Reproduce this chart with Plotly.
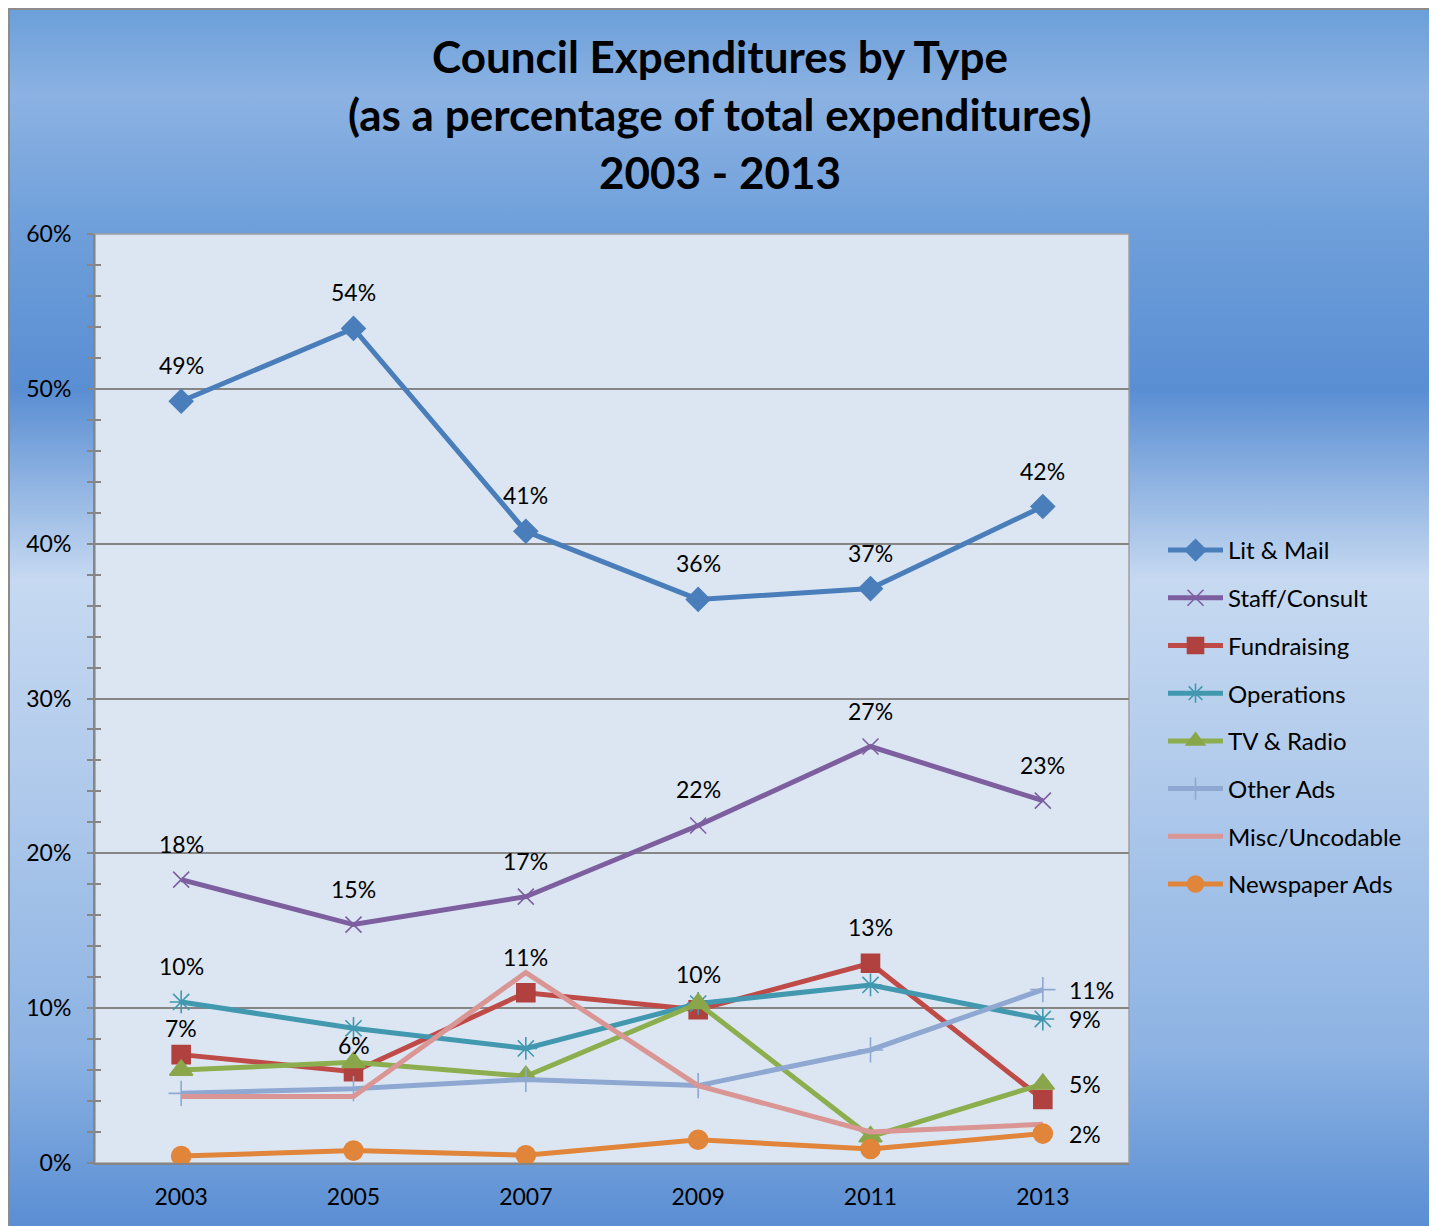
import base64
import plotly.graph_objects as go

# ---------------- data ----------------
years = ["2003", "2005", "2007", "2009", "2011", "2013"]
series_names = ["Lit & Mail", "Staff/Consult", "Fundraising", "Operations",
                "TV & Radio", "Other Ads", "Misc/Uncodable", "Newspaper Ads"]
lit_mail = [49.2, 53.9, 40.8, 36.4, 37.1, 42.4]
staff_consult = [18.3, 15.4, 17.2, 21.8, 26.9, 23.4]
fundraising = [7.0, 5.9, 11.0, 9.9, 12.9, 4.1]
operations = [10.4, 8.7, 7.4, 10.3, 11.5, 9.3]
tv_radio = [6.0, 6.5, 5.6, 10.3, 1.7, 5.1]
other_ads = [4.5, 4.8, 5.4, 5.0, 7.3, 11.2]
misc_uncodable = [4.3, 4.3, 12.3, 5.0, 2.0, 2.5]
newspaper_ads = [0.45, 0.8, 0.5, 1.5, 0.9, 1.9]
y_tick_values = [0, 10, 20, 30, 40, 50, 60]
y_tick_labels = ["0%", "10%", "20%", "30%", "40%", "50%", "60%"]

series_values = [lit_mail, staff_consult, fundraising, operations,
                 tv_radio, other_ads, misc_uncodable, newspaper_ads]

# which points carry a data label, and where (style)
label_points = {
    "Lit & Mail": {0: "top", 1: "top", 2: "top", 3: "top", 4: "top", 5: "top"},
    "Staff/Consult": {0: "top", 1: "top", 2: "top", 3: "top", 4: "top", 5: "top"},
    "Fundraising": {0: "top_lo", 1: "top_lo", 2: "top", 3: "top", 4: "top"},
    "Operations": {0: "top", 5: "right"},
    "TV & Radio": {5: "right"},
    "Other Ads": {5: "right"},
    "Newspaper Ads": {5: "right"},
}

styles = {
    "Lit & Mail": dict(color="#4A7EBB", symbol="diamond", size=18, mcolor="#4A7EBB"),
    "Staff/Consult": dict(color="#7D5FA0", symbol="x-thin-open", size=16, mcolor="#7D5FA0"),
    "Fundraising": dict(color="#BE4B48", symbol="square", size=18, mcolor="#B0413E"),
    "Operations": dict(color="#4198AF", symbol="asterisk-open", size=19, mcolor="#4198AF"),
    "TV & Radio": dict(color="#8DAE4E", symbol="triangle-up", size=20, mcolor="#8AA64A"),
    "Other Ads": dict(color="#8EA8D2", symbol="cross-thin-open", size=18, mcolor="#8EA8D2"),
    "Misc/Uncodable": dict(color="#D99694", symbol=None, size=0, mcolor="#D99694"),
    "Newspaper Ads": dict(color="#E0853A", symbol="circle", size=19, mcolor="#E0853A"),
}

FONT = "Lato"

# ---------------- layout geometry (pixels of the page; body has an 8px margin) ----------------
OFF = 8
W, H = 1437 - OFF, 1226 - OFF
PL, PR, PT, PB = 95 - OFF, 1129 - OFF, 234 - OFF, 1163 - OFF   # plot area in figure pixels


def px_x(px):
    return (px - OFF - PL) / (PR - PL)


def px_y(py):
    return (PB - (py - OFF)) / (PB - PT)


fig = go.Figure()

for name, vals in zip(series_names, series_values):
    st = styles[name]
    mode = "lines+markers" if st["symbol"] else "lines"
    marker = dict(symbol=st["symbol"], size=st["size"], color=st["mcolor"],
                  line=dict(color=st["mcolor"], width=1.6)) if st["symbol"] else None
    fig.add_trace(go.Scatter(
        x=years, y=vals, name=name, mode=mode, legendgroup=name,
        line=dict(color=st["color"], width=5),
        marker=marker, hoverinfo="x+y+name",
    ))

# data labels (x given as category index on the category axis)
annotations = []
for name, vals in zip(series_names, series_values):
    for idx, pos in label_points.get(name, {}).items():
        txt = f"{round(vals[idx])}%"
        if pos == "right":
            annotations.append(dict(x=idx, y=vals[idx], text=txt, showarrow=False,
                                    xanchor="left", yanchor="middle", xshift=24, yshift=0,
                                    font=dict(family=FONT, size=23, color="#000000")))
        else:
            shift = 27 if pos == "top_lo" else 36
            annotations.append(dict(x=idx, y=vals[idx], text=txt, showarrow=False,
                                    xanchor="center", yanchor="middle", yshift=shift,
                                    font=dict(family=FONT, size=23, color="#000000")))

# title lines
title_lines = ["Council Expenditures by Type",
               "(as a percentage of total expenditures)",
               "2003 - 2013"]
for line, py in zip(title_lines, [56, 114, 172]):
    annotations.append(dict(xref="paper", yref="paper", x=px_x(720), y=px_y(py),
                            text=f"<b>{line}</b>", showarrow=False,
                            xanchor="center", yanchor="middle",
                            font=dict(family=FONT, size=44, color="#000000")))

# background gradient as an svg image
stops = [(0, "#6A9FD9"), (95, "#8CB2E3"), (230, "#6E9FDA"), (390, "#5A8ED3"),
         (580, "#C6D9F1"), (760, "#B3CCEC"), (1050, "#8DB3E3"), (1226, "#5A8ED3")]
top_px, bot_px, left_px, right_px = 8, 1226, 8, 1432
stop_xml = "".join(
    f'<stop offset="{(p - top_px) / (bot_px - top_px):.4f}" stop-color="{c}"/>' for p, c in stops)
svg = (f'<svg xmlns="http://www.w3.org/2000/svg" width="{right_px-left_px}" height="{bot_px-top_px}" '
       f'preserveAspectRatio="none" viewBox="0 0 {right_px-left_px} {bot_px-top_px}">'
       f'<defs><linearGradient id="g" x1="0" y1="0" x2="0" y2="1">{stop_xml}</linearGradient></defs>'
       f'<rect x="0" y="0" width="{right_px-left_px}" height="{bot_px-top_px}" fill="url(#g)"/></svg>')
src = "data:image/svg+xml;base64," + base64.b64encode(svg.encode()).decode()

images = [dict(source=src, xref="paper", yref="paper", x=px_x(left_px), y=px_y(top_px),
               sizex=px_x(right_px) - px_x(left_px), sizey=px_y(top_px) - px_y(bot_px),
               xanchor="left", yanchor="top", sizing="stretch", layer="below")]

shapes = [
    # outer chart border
    dict(type="rect", xref="paper", yref="paper", x0=px_x(left_px + 1), x1=px_x(right_px),
         y0=px_y(top_px + 1), y1=px_y(bot_px + 10), line=dict(color="#8C8C8C", width=2),
         fillcolor="rgba(0,0,0,0)", layer="below"),
    # plot area
    dict(type="rect", xref="paper", yref="paper", x0=0, x1=1, y0=0, y1=1,
         line=dict(color="#A0A0A0", width=1.5), fillcolor="#DCE6F2", layer="below"),
]

fig.update_layout(
    width=W, height=H,
    margin=dict(l=PL, r=W - PR, t=PT, b=H - PB, pad=0),
    paper_bgcolor="#FFFFFF", plot_bgcolor="rgba(0,0,0,0)",
    font=dict(family=FONT, size=23, color="#000000"),
    showlegend=True,
    legend=dict(x=px_x(1163), y=px_y(528), xanchor="left", yanchor="top",
                bgcolor="rgba(0,0,0,0)", font=dict(family=FONT, size=24, color="#000000"),
                itemwidth=55, tracegroupgap=13.5, traceorder="grouped"),
    annotations=annotations, images=images, shapes=shapes,
    xaxis=dict(type="category", range=[-0.5, 5.5], showgrid=False, zeroline=False,
               showline=True, linecolor="#868686", linewidth=2, ticks="",
               ticklabelstandoff=12, tickfont=dict(family=FONT, size=23)),
    yaxis=dict(range=[0, 60], tickvals=y_tick_values, ticktext=y_tick_labels,
               showgrid=True, gridcolor="#868686", gridwidth=1.5, zeroline=False,
               showline=True, linecolor="#868686", linewidth=2,
               ticks="outside", ticklen=6, tickcolor="#868686", tickwidth=1.5,
               minor=dict(dtick=2, ticks="outside", ticklen=6, tickcolor="#868686",
                          tickwidth=1.5, showgrid=False),
               ticklabelstandoff=11, tickfont=dict(family=FONT, size=23)),
    yaxis2=dict(overlaying="y", anchor="x", side="left", range=[0, 60], tickvals=y_tick_values,
                showticklabels=False, showgrid=False, zeroline=False, showline=False,
                ticks="inside", ticklen=6, tickcolor="#868686", tickwidth=1.5,
                minor=dict(dtick=2, ticks="inside", ticklen=6, tickcolor="#868686",
                           tickwidth=1.5, showgrid=False)),
)

fig.add_trace(go.Scatter(x=years, y=[None] * len(years), yaxis="y2", showlegend=False,
                         hoverinfo="skip", mode="lines"))

fig.write_html("out.html")
